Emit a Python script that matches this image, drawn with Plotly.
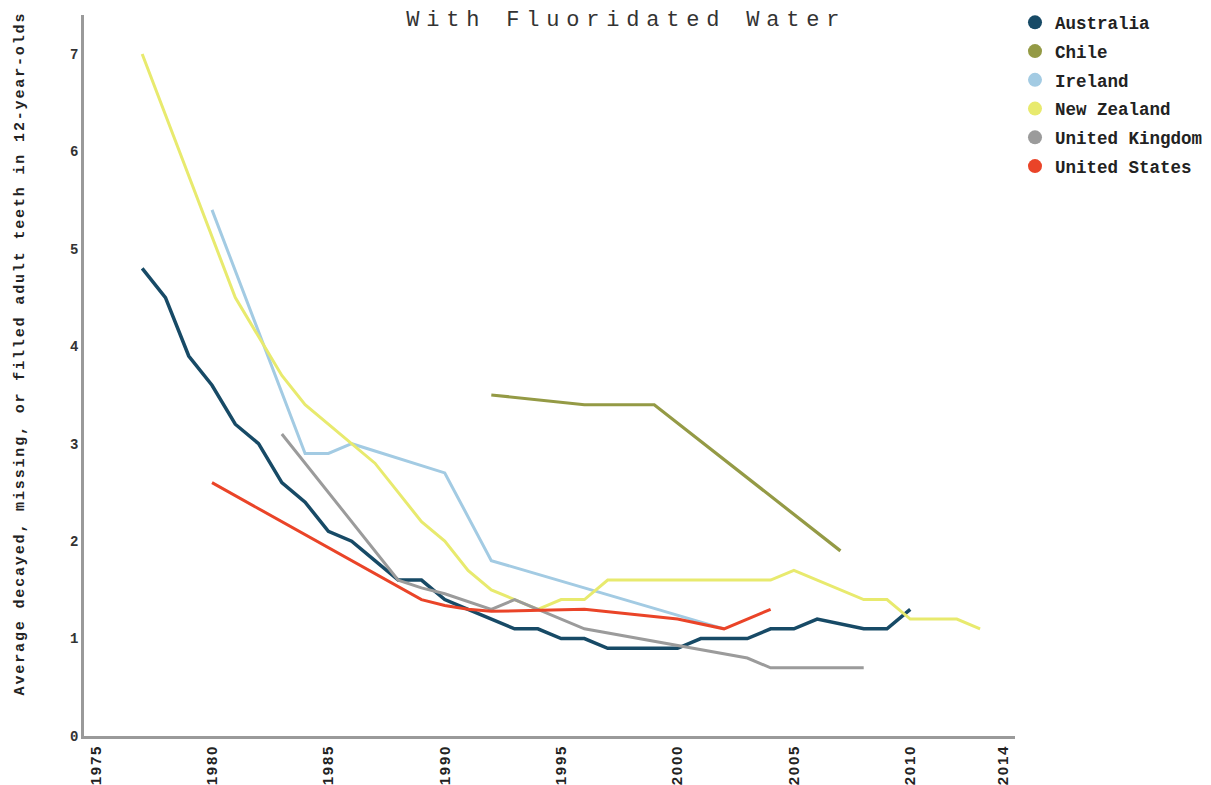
import plotly.graph_objects as go

# ---- data ----
countries = ["Australia", "Chile", "Ireland", "New Zealand", "United Kingdom", "United States"]

aus_years = [1977, 1978, 1979, 1980, 1981, 1982, 1983, 1984, 1985, 1986, 1987, 1988, 1989, 1990,
             1991, 1992, 1993, 1994, 1995, 1996, 1997, 1998, 1999, 2000, 2001, 2002, 2003, 2004,
             2005, 2006, 2007, 2008, 2009, 2010]
aus_vals = [4.8, 4.5, 3.9, 3.6, 3.2, 3.0, 2.6, 2.4, 2.1, 2.0, 1.8, 1.6, 1.6, 1.4,
            1.3, 1.2, 1.1, 1.1, 1.0, 1.0, 0.9, 0.9, 0.9, 0.9, 1.0, 1.0, 1.0, 1.1,
            1.1, 1.2, 1.15, 1.1, 1.1, 1.3]

chl_years = [1992, 1996, 1999, 2007]
chl_vals = [3.5, 3.4, 3.4, 1.9]

irl_years = [1980, 1984, 1985, 1986, 1990, 1992, 2002]
irl_vals = [5.4, 2.9, 2.9, 3.0, 2.7, 1.8, 1.1]

nzl_years = [1977, 1981, 1982, 1983, 1984, 1985, 1986, 1987, 1988, 1989, 1990, 1991, 1992, 1993,
             1994, 1995, 1996, 1997, 1998, 1999, 2000, 2001, 2002, 2003, 2004, 2005, 2008, 2009,
             2010, 2012, 2013]
nzl_vals = [7.0, 4.5, 4.1, 3.7, 3.4, 3.2, 3.0, 2.8, 2.5, 2.2, 2.0, 1.7, 1.5, 1.4,
            1.3, 1.4, 1.4, 1.6, 1.6, 1.6, 1.6, 1.6, 1.6, 1.6, 1.6, 1.7, 1.4, 1.4,
            1.2, 1.2, 1.1]

gbr_years = [1983, 1988, 1989, 1990, 1992, 1993, 1996, 2003, 2004, 2008]
gbr_vals = [3.1, 1.6, 1.52, 1.46, 1.3, 1.4, 1.1, 0.8, 0.7, 0.7]

usa_years = [1980, 1989, 1990, 1991, 1992, 1996, 2000, 2002, 2004]
usa_vals = [2.6, 1.4, 1.34, 1.3, 1.28, 1.3, 1.2, 1.1, 1.3]

x_tick_vals = [1975, 1980, 1985, 1990, 1995, 2000, 2005, 2010, 2014]
x_tick_text = ["1975", "1980", "1985", "1990", "1995", "2000", "2005", "2010", "2014"]
y_tick_vals = [0, 1, 2, 3, 4, 5, 6, 7]

title_text = "With Fluoridated Water"
y_title = "Average decayed, missing, or filled adult teeth in 12-year-olds"

colors = ["#174a66", "#949a45", "#a3cbe3", "#e8ea6e", "#9b9b9b", "#ea4428"]
widths = [3.5, 3.2, 3.0, 3.0, 3.0, 3.0]

series = [(aus_years, aus_vals), (chl_years, chl_vals), (irl_years, irl_vals),
          (nzl_years, nzl_vals), (gbr_years, gbr_vals), (usa_years, usa_vals)]

MONO = "Liberation Mono, Courier New, monospace"


def spaced(t, px):
    return '<span style="letter-spacing:%spx">%s</span>' % (px, t)


fig = go.Figure()
for name, (xs, ys), c, w in zip(countries, series, colors, widths):
    fig.add_trace(go.Scatter(x=xs, y=ys, mode="lines", name=name, legendgroup=name,
                             showlegend=False, line=dict(color=c, width=w),
                             hoverinfo="x+y+name"))
for name, c in zip(countries, colors):
    fig.add_trace(go.Scatter(x=[None], y=[None], mode="markers", name=name,
                             legendgroup=name, showlegend=True,
                             marker=dict(color=c, size=14, symbol="circle")))

fig.update_layout(
    width=1211, height=777,
    margin=dict(l=75.5, r=204, t=7, b=49, autoexpand=False),
    paper_bgcolor="white", plot_bgcolor="white",
    title=dict(
        text=spaced(title_text, 6.8),
        font=dict(family=MONO, size=22, color="#333333"),
        x=0.5824, xref="paper", xanchor="center",
        y=1 - 10 / 777, yref="container", yanchor="middle",
    ),
    legend=dict(
        x=1.0, xanchor="left", y=1.0146, yanchor="top",
        font=dict(family=MONO, size=17.5, color="#222222", weight="bold"),
        tracegroupgap=3.0, itemwidth=30, bgcolor="rgba(0,0,0,0)",
    ),
    showlegend=True,
)

fig.update_xaxes(
    range=[1974.5, 2014.5], showgrid=False, zeroline=False,
    showline=True, linecolor="#9a9a9a", linewidth=2.5,
    tickmode="array", tickvals=x_tick_vals,
    ticktext=[spaced(t, 1.8) for t in x_tick_text],
    tickangle=-90, ticks="", automargin=False,
    tickfont=dict(family="Liberation Sans, Arial, sans-serif", size=15, color="#222222", weight="bold"),
)
fig.update_yaxes(
    range=[0, 7.4], showgrid=False, zeroline=False,
    showline=True, linecolor="#9a9a9a", linewidth=2.5,
    tickmode="array", tickvals=y_tick_vals, ticks="", automargin=False,
    tickfont=dict(family=MONO, size=14, color="#333333", weight="bold"),
)

fig.add_annotation(
    text=spaced(y_title, 1.85),
    xref="paper", yref="paper", x=-0.0682, y=0.53,
    xanchor="center", yanchor="middle", textangle=-90, showarrow=False,
    font=dict(family=MONO, size=15, color="#222222", weight="bold"),
)

fig.write_html("out.html")
